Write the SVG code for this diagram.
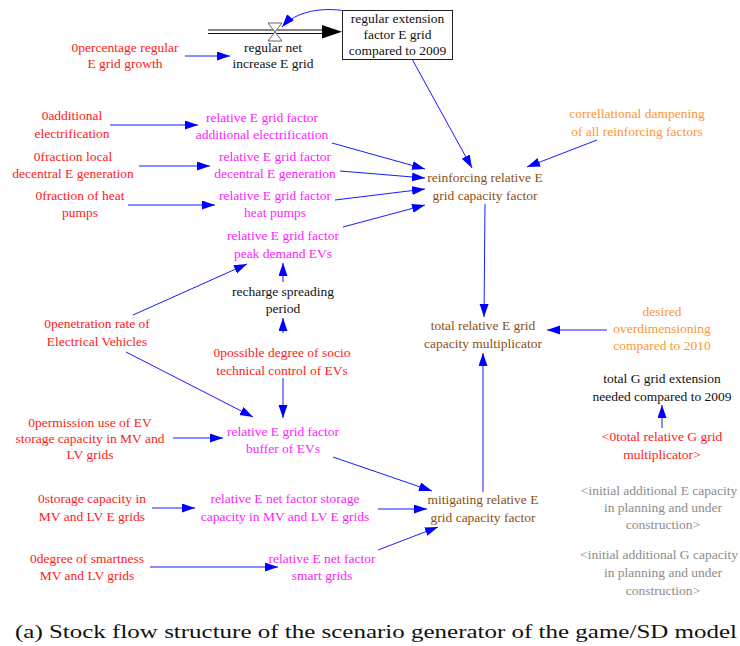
<svg xmlns="http://www.w3.org/2000/svg" width="740" height="646" viewBox="0 0 740 646" font-family="Liberation Serif, Times New Roman, serif">
<style>
text{font-size:13.5px;text-anchor:middle}
.r{fill:#ff1a1a}.m{fill:#ff22ff}.b{fill:#8c4f14}.o{fill:#ff9433}.k{fill:#111}.g{fill:#8c8c8c}
.c{stroke:#0000ff;stroke-width:0.9;fill:none;marker-end:url(#ah)}
.cap{font-size:19px;text-anchor:start;fill:#111}
</style>
<defs>
<marker id="ah" markerUnits="userSpaceOnUse" markerWidth="14" markerHeight="10" refX="13" refY="4.5" orient="auto"><path d="M0,0 L13,4.5 L0,9 z" fill="#0000ff"/></marker>
</defs>
<rect width="740" height="646" fill="#fff"/>
<g id="connectors">
<g id="flow-pipe">
<line x1="208" y1="30" x2="324" y2="30" stroke="#111" stroke-width="1"/>
<line x1="208" y1="33.5" x2="324" y2="33.5" stroke="#111" stroke-width="1"/>
<polygon points="322,25 342,31.7 322,38.5" fill="#000"/>
<path d="M268,23 L282,23 L268,41 L282,41 Z" fill="#fff" stroke="#555" stroke-width="0.9"/>
</g>
<path class="c" d="M346,11 C322,7 296,11 282,27"/>
<path class="c" d="M185,56 L230,56"/>
<path class="c" d="M110,125 L198,125"/>
<path class="c" d="M139,166 L210,166"/>
<path class="c" d="M128,205 L215,205"/>
<path class="c" d="M332,143 L425,169"/>
<path class="c" d="M340,171 L425,178"/>
<path class="c" d="M335,200 L425,189"/>
<path class="c" d="M343,227 L425,205"/>
<path class="c" d="M412,59 L472,168"/>
<path class="c" d="M597,140 L527,167"/>
<path class="c" d="M485,204 L484,317"/>
<path class="c" d="M607,330 L547,330"/>
<path class="c" d="M483,492 L483,353"/>
<path class="c" d="M133,315 L247,264"/>
<path class="c" d="M283,282 L283,263"/>
<path class="c" d="M283,333 L283,318"/>
<path class="c" d="M126,352 L253,417"/>
<path class="c" d="M283,378 L283,418"/>
<path class="c" d="M173,438 L223,438"/>
<path class="c" d="M333,457 L432,491"/>
<path class="c" d="M152,508 L195,508"/>
<path class="c" d="M378,509 L427,509"/>
<path class="c" d="M150,567 L278,567"/>
<path class="c" d="M378,550 L438,527"/>
<path class="c" d="M662,428 L662,405"/>
</g>
<g id="stock-regular-extension">
<rect x="342.5" y="10.5" width="110" height="49" fill="#fff" stroke="#222" stroke-width="1"/>
<text class="k" x="397.5" y="23">regular extension</text>
<text class="k" x="397.5" y="39">factor E grid</text>
<text class="k" x="397.5" y="55">compared to 2009</text>
</g>
<g id="flow-regular-net-increase"><text class="k" x="273" y="52">regular net</text><text class="k" x="273" y="68">increase E grid</text></g>
<g id="percentage-regular"><text class="r" x="125" y="52">0percentage regular</text><text class="r" x="125" y="68">E grid growth</text></g>
<g id="additional-electrification"><text class="r" x="72" y="120">0additional</text><text class="r" x="72" y="138">electrification</text></g>
<g id="rel-additional"><text class="m" x="262" y="122">relative E grid factor</text><text class="m" x="262" y="139">additional electrification</text></g>
<g id="fraction-local"><text class="r" x="73" y="161">0fraction local</text><text class="r" x="73" y="178">decentral E generation</text></g>
<g id="rel-decentral"><text class="m" x="275" y="161">relative E grid factor</text><text class="m" x="275" y="178">decentral E generation</text></g>
<g id="fraction-heat"><text class="r" x="80" y="200">0fraction of heat</text><text class="r" x="80" y="217">pumps</text></g>
<g id="rel-heat"><text class="m" x="275" y="200">relative E grid factor</text><text class="m" x="275" y="217">heat pumps</text></g>
<g id="rel-peak"><text class="m" x="283" y="240">relative E grid factor</text><text class="m" x="283" y="258">peak demand EVs</text></g>
<g id="recharge"><text class="k" x="283" y="296">recharge spreading</text><text class="k" x="283" y="313">period</text></g>
<g id="penetration"><text class="r" x="97" y="328">0penetration rate of</text><text class="r" x="97" y="346">Electrical Vehicles</text></g>
<g id="possible-degree"><text class="r" x="282" y="357">0possible degree of socio</text><text class="r" x="282" y="375">technical control of EVs</text></g>
<g id="permission"><text class="r" x="90" y="427">0permission use of EV</text><text class="r" x="90" y="443">storage capacity in MV and</text><text class="r" x="90" y="459">LV grids</text></g>
<g id="rel-buffer"><text class="m" x="283" y="436">relative E grid factor</text><text class="m" x="283" y="453">buffer of EVs</text></g>
<g id="storage-capacity"><text class="r" x="92" y="503">0storage capacity in</text><text class="r" x="92" y="521">MV and LV E grids</text></g>
<g id="rel-storage"><text class="m" x="285" y="503">relative E net factor storage</text><text class="m" x="285" y="521">capacity in MV and LV E grids</text></g>
<g id="smartness"><text class="r" x="87" y="563">0degree of smartness</text><text class="r" x="87" y="580">MV and LV grids</text></g>
<g id="rel-smart"><text class="m" x="322" y="563">relative E net factor</text><text class="m" x="322" y="580">smart grids</text></g>
<g id="reinforcing"><text class="b" x="485" y="182">reinforcing relative E</text><text class="b" x="485" y="200">grid capacity factor</text></g>
<g id="correllational"><text class="o" x="637" y="118">correllational dampening</text><text class="o" x="637" y="136">of all reinforcing factors</text></g>
<g id="total-E"><text class="b" x="483" y="330">total relative E grid</text><text class="b" x="483" y="348">capacity multiplicator</text></g>
<g id="desired"><text class="o" x="662" y="316">desired</text><text class="o" x="662" y="333">overdimensioning</text><text class="o" x="662" y="350">compared to 2010</text></g>
<g id="mitigating"><text class="b" x="483" y="504">mitigating relative E</text><text class="b" x="483" y="522">grid capacity factor</text></g>
<g id="total-G-extension"><text class="k" x="662" y="383">total G grid extension</text><text class="k" x="662" y="401">needed compared to 2009</text></g>
<g id="total-G-mult"><text class="r" x="662" y="441">&lt;0total relative G grid</text><text class="r" x="662" y="459">multiplicator&gt;</text></g>
<g id="initial-E"><text class="g" x="659" y="495">&lt;initial additional E capacity</text><text class="g" x="663" y="512">in planning and under</text><text class="g" x="663" y="529">construction&gt;</text></g>
<g id="initial-G"><text class="g" x="659" y="559">&lt;initial additional G capacity</text><text class="g" x="663" y="577">in planning and under</text><text class="g" x="663" y="595">construction&gt;</text></g>
<text class="cap" x="15" y="638" textLength="722" lengthAdjust="spacingAndGlyphs">(a) Stock flow structure of the scenario generator of the game/SD model</text>
</svg>
